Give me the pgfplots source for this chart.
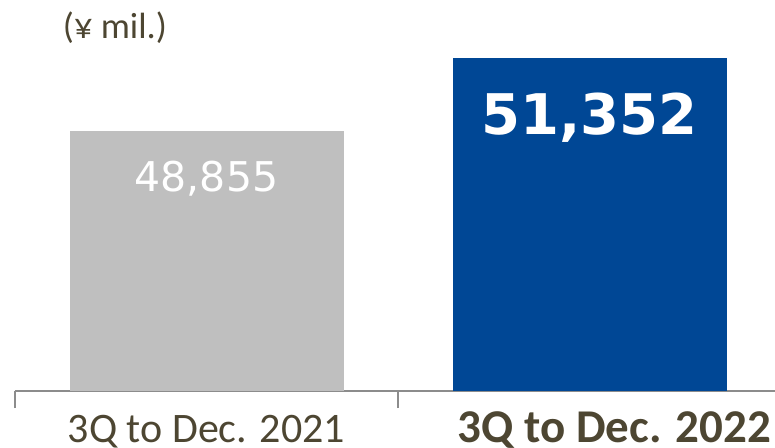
\documentclass[border=0pt]{standalone}
\usepackage{pgfplots}
\pgfplotsset{compat=1.18}
\usepackage{fontspec}
\setmainfont{Carlito}
\newfontfamily\numfont{DejaVu Sans}
\definecolor{txt}{RGB}{77,70,50}
\definecolor{barg}{RGB}{191,191,191}
\definecolor{barb}{RGB}{0,71,149}
\definecolor{axg}{RGB}{140,140,140}
\begin{document}
\begin{tikzpicture}
\begin{axis}[
  at={(0,0)}, anchor=south west,
  scale only axis, width=760pt, height=391pt,
  xmin=-0.5, xmax=1.484, ymin=40000, ymax=53329,
  axis x line*=bottom, axis y line=none,
  x axis line style={axg, line width=1.6pt},
  xtick={0,1},
  xticklabels={3Q to Dec. 2021, {\fontsize{47}{47}\selectfont\bfseries\hspace*{50pt}3Q to Dec. 2022}},
  major tick length=0pt,
  minor xtick={-0.5,0.5,1.5}, minor tick length=17pt, tick align=outside,
  minor tick style={axg, line width=1.6pt},
  xticklabel style={font=\fontsize{42}{42}\selectfont, text=txt, anchor=base, yshift=-51pt, inner sep=0pt},
  ybar, bar width=274pt,
]
\addplot[fill=barg, draw=none, bar shift=0pt,
  nodes near coords={48,855},
  nodes near coords style={font=\numfont\fontsize{41}{41}\selectfont, text=white, anchor=base, yshift=-60.7pt, inner sep=0pt}]
  coordinates {(0,48855)};
\addplot[fill=barb, draw=none, bar shift=0pt,
  nodes near coords={51,352},
  nodes near coords style={font=\numfont\bfseries\fontsize{56}{56}\selectfont, text=white, anchor=base, yshift=-77pt, inner sep=0pt}]
  coordinates {(1,51352)};
\end{axis}
\node[font=\fontsize{36.5}{36.5}\selectfont, text=txt, inner sep=0pt] at (100pt,363pt) {(¥ mil.)};
\pgfresetboundingbox
\path (-15pt,-56pt) rectangle (760pt,391pt);
\end{tikzpicture}
\end{document}
